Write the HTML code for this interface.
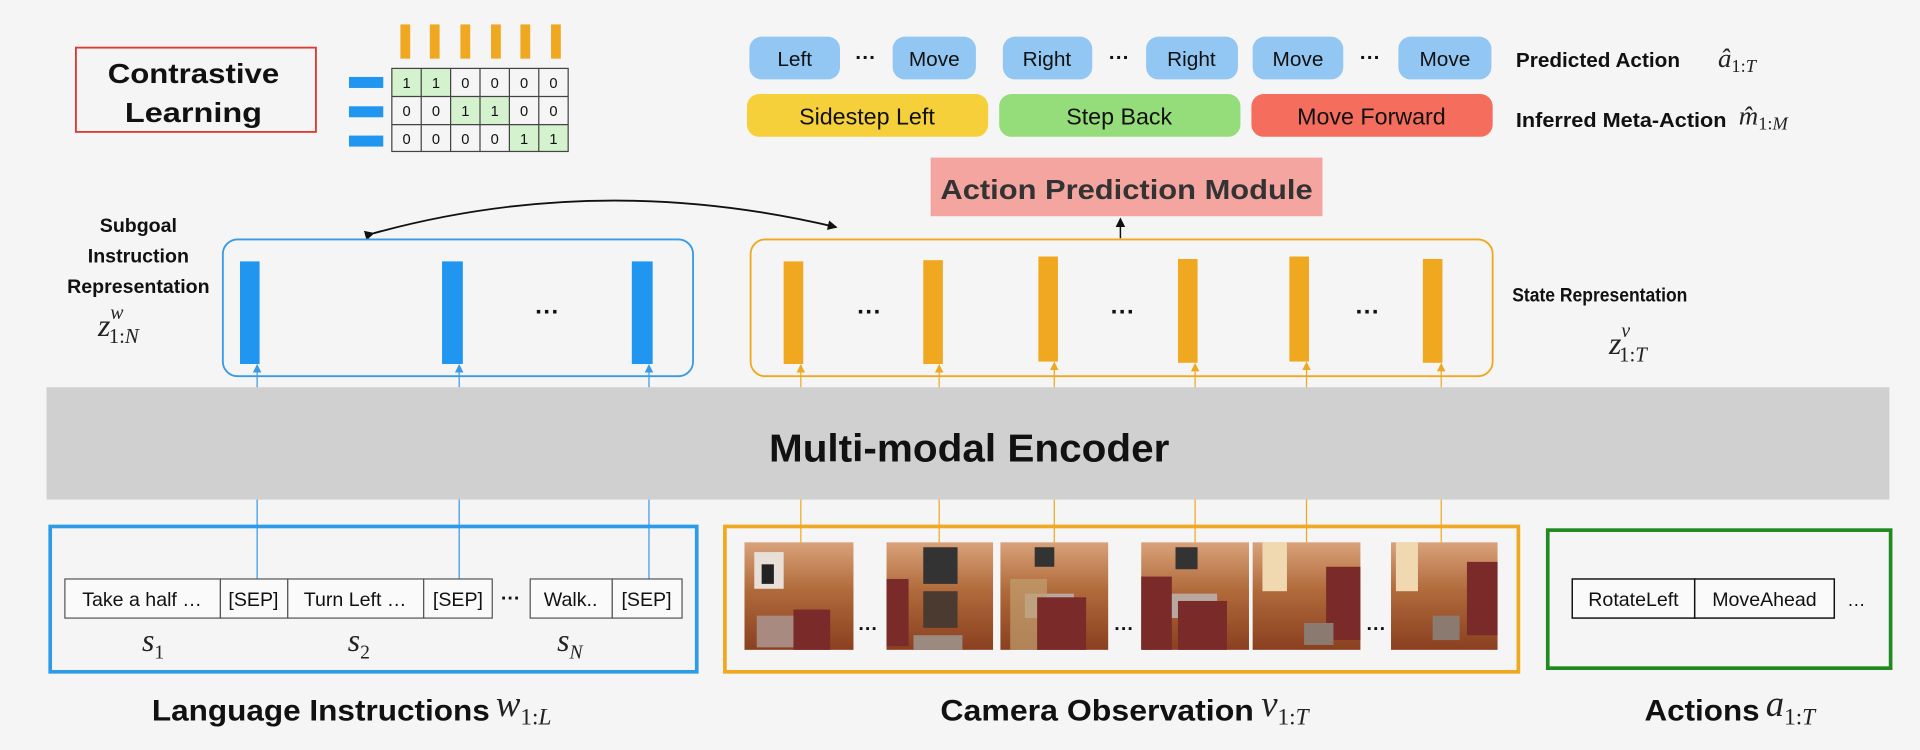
<!DOCTYPE html>
<html><head><meta charset="utf-8"><style>
html,body{margin:0;padding:0;background:#f4f5f4;}
svg{display:block}
text{font-family:"Liberation Sans",sans-serif;}
.b{font-weight:bold;fill:#111}
.m{font-family:"Liberation Serif",serif;font-style:italic;fill:#222}
</style></head><body>
<svg width="1920" height="750" viewBox="0 0 1568 614" preserveAspectRatio="none" xmlns="http://www.w3.org/2000/svg">
<defs>
<marker id="ah" markerWidth="8" markerHeight="8" refX="7" refY="4" orient="auto" markerUnits="userSpaceOnUse"><path d="M0,0 L8,4 L0,8 Z" fill="#111"/></marker>
<marker id="ab" markerWidth="7" markerHeight="7" refX="6" refY="3.5" orient="auto" markerUnits="userSpaceOnUse"><path d="M0,0 L7,3.5 L0,7 Z" fill="#3a9ae8"/></marker>
<marker id="ao" markerWidth="7" markerHeight="7" refX="6" refY="3.5" orient="auto" markerUnits="userSpaceOnUse"><path d="M0,0 L7,3.5 L0,7 Z" fill="#f0a820"/></marker>
<linearGradient id="room" x1="0" y1="0" x2="0" y2="1">
<stop offset="0" stop-color="#d9a27a"/><stop offset="0.45" stop-color="#b06a3a"/><stop offset="1" stop-color="#8a4020"/></linearGradient>
</defs>
<rect width="1568" height="614" fill="#f4f5f4"/>

<!-- Contrastive learning -->
<rect x="62" y="39" width="196" height="69" fill="none" stroke="#e03a30" stroke-width="1.5"/>
<text class="b" x="88" y="68" font-size="23" textLength="140" lengthAdjust="spacingAndGlyphs">Contrastive</text>
<text class="b" x="102" y="100" font-size="23" textLength="112" lengthAdjust="spacingAndGlyphs">Learning</text>
<g fill="#f0a820">
<rect x="327" y="20" width="8" height="28"/><rect x="351" y="20" width="8" height="28"/><rect x="376" y="20" width="8" height="28"/><rect x="401" y="20" width="8" height="28"/><rect x="425" y="20" width="8" height="28"/><rect x="450" y="20" width="8" height="28"/>
</g>
<g fill="#2196f0">
<rect x="285" y="63" width="28" height="9"/><rect x="285" y="87" width="28" height="9"/><rect x="285" y="111" width="28" height="9"/>
</g>
<g fill="#d5f2cf">
<rect x="320" y="56" width="48" height="23"/><rect x="368" y="79" width="48" height="23"/><rect x="416" y="102" width="48" height="22"/>
</g>
<g stroke="#444" stroke-width="1" fill="none">
<rect x="320" y="56" width="144" height="68"/>
<line x1="320" y1="79" x2="464" y2="79"/><line x1="320" y1="102" x2="464" y2="102"/>
<line x1="344" y1="56" x2="344" y2="124"/><line x1="368" y1="56" x2="368" y2="124"/><line x1="392" y1="56" x2="392" y2="124"/><line x1="416" y1="56" x2="416" y2="124"/><line x1="440" y1="56" x2="440" y2="124"/>
</g>
<g font-size="12" text-anchor="middle" fill="#111" font-family="Liberation Mono,monospace">
<text x="332" y="72">1</text><text x="356" y="72">1</text><text x="380" y="72">0</text><text x="404" y="72">0</text><text x="428" y="72">0</text><text x="452" y="72">0</text>
<text x="332" y="95">0</text><text x="356" y="95">0</text><text x="380" y="95">1</text><text x="404" y="95">1</text><text x="428" y="95">0</text><text x="452" y="95">0</text>
<text x="332" y="118">0</text><text x="356" y="118">0</text><text x="380" y="118">0</text><text x="404" y="118">0</text><text x="428" y="118">1</text><text x="452" y="118">1</text>
</g>

<!-- Predicted actions -->
<g fill="#92c7f3">
<rect x="612" y="30" width="74" height="35" rx="10"/><rect x="729" y="30" width="68" height="35" rx="10"/>
<rect x="819" y="30" width="73" height="35" rx="10"/><rect x="936" y="30" width="75" height="35" rx="10"/>
<rect x="1023" y="30" width="74" height="35" rx="10"/><rect x="1142" y="30" width="76" height="35" rx="10"/>
</g>
<g font-size="17" text-anchor="middle" fill="#111">
<text x="649" y="54">Left</text><text x="763" y="54">Move</text><text x="855" y="54">Right</text><text x="973" y="54">Right</text><text x="1060" y="54">Move</text><text x="1180" y="54">Move</text>
</g>
<g font-size="17" text-anchor="middle"><text class="b" x="707" y="53">···</text><text class="b" x="914" y="53">···</text><text class="b" x="1119" y="53">···</text></g>
<rect x="610" y="77" width="197" height="35" rx="10" fill="#f5d03b"/>
<rect x="816" y="77" width="197" height="35" rx="10" fill="#95dd7a"/>
<rect x="1022" y="77" width="197" height="35" rx="10" fill="#f56e5d"/>
<g font-size="19" text-anchor="middle" fill="#111">
<text x="708" y="102">Sidestep Left</text><text x="914" y="102">Step Back</text><text x="1120" y="102">Move Forward</text>
</g>
<text class="b" x="1238" y="55" font-size="17" textLength="134" lengthAdjust="spacingAndGlyphs">Predicted Action</text>
<text class="m" x="1403" y="55" font-size="22">â<tspan font-size="15" dy="4" font-style="normal">1:<tspan font-style="italic">T</tspan></tspan></text>
<text class="b" x="1238" y="104" font-size="17" textLength="172" lengthAdjust="spacingAndGlyphs">Inferred Meta-Action</text>
<text class="m" x="1420" y="102" font-size="22">m̂<tspan font-size="15" dy="4" font-style="normal">1:<tspan font-style="italic">M</tspan></tspan></text>

<!-- Action prediction module -->
<rect x="760" y="129" width="320" height="48" fill="#f4a59f"/>
<text x="768" y="163" font-size="23" font-weight="bold" fill="#333" textLength="304" lengthAdjust="spacingAndGlyphs">Action Prediction Module</text>
<line x1="915" y1="195" x2="915" y2="179" stroke="#111" stroke-width="1.2" marker-end="url(#ah)"/>
<path d="M305,191 Q490,140 683,186" fill="none" stroke="#111" stroke-width="1.5" marker-start="url(#ah)" marker-end="url(#ah)"/>

<!-- Subgoal -->
<g font-size="16" text-anchor="middle">
<text class="b" x="113" y="190">Subgoal</text><text class="b" x="113" y="215">Instruction</text><text class="b" x="113" y="240">Representation</text>
</g>
<text class="m" x="80" y="275" font-size="26">z<tspan font-size="16" dy="-14">w</tspan><tspan font-size="17" dx="-12" dy="20" font-style="normal">1:<tspan font-style="italic">N</tspan></tspan></text>

<rect x="182" y="196" width="384" height="112" rx="12" fill="none" stroke="#3a9ae8" stroke-width="1.5"/>
<g fill="#2196f0"><rect x="196" y="214" width="16" height="84"/><rect x="361" y="214" width="17" height="84"/><rect x="516" y="214" width="17" height="84"/></g>
<text class="b" x="447" y="262" font-size="20" text-anchor="middle">···</text>

<rect x="613" y="196" width="606" height="112" rx="12" fill="none" stroke="#f0a820" stroke-width="1.5"/>
<g fill="#f0a820">
<rect x="640" y="214" width="16" height="84"/><rect x="754" y="213" width="16" height="85"/><rect x="848" y="210" width="16" height="86"/>
<rect x="962" y="212" width="16" height="85"/><rect x="1053" y="210" width="16" height="86"/><rect x="1162" y="212" width="16" height="85"/>
</g>
<g font-size="20" text-anchor="middle"><text class="b" x="710" y="262">···</text><text class="b" x="917" y="262">···</text><text class="b" x="1117" y="262">···</text></g>
<text class="b" x="1235" y="247" font-size="16" textLength="143" lengthAdjust="spacingAndGlyphs">State Representation</text>
<text class="m" x="1314" y="290" font-size="26">z<tspan font-size="16" dy="-14">v</tspan><tspan font-size="17" dx="-9" dy="20" font-style="normal">1:<tspan font-style="italic">T</tspan></tspan></text>

<!-- connector lines -->
<g stroke="#3a9ae8" stroke-width="1" marker-end="url(#ab)">
<line x1="210" y1="474" x2="210" y2="299"/><line x1="375" y1="474" x2="375" y2="299"/><line x1="530" y1="474" x2="530" y2="299"/>
</g>
<g stroke="#f0a820" stroke-width="1" marker-end="url(#ao)">
<line x1="654" y1="444" x2="654" y2="299"/><line x1="767" y1="444" x2="767" y2="299"/><line x1="861" y1="444" x2="861" y2="297"/>
<line x1="976" y1="444" x2="976" y2="298"/><line x1="1067" y1="444" x2="1067" y2="297"/><line x1="1177" y1="444" x2="1177" y2="298"/>
</g>

<!-- Encoder -->
<rect x="38" y="317" width="1505" height="92" fill="#d0d0d0"/>
<text class="b" x="628" y="378" font-size="32" textLength="327" lengthAdjust="spacingAndGlyphs">Multi-modal Encoder</text>

<!-- bottom boxes -->
<rect x="41" y="431" width="528" height="119" fill="none" stroke="#2e9be8" stroke-width="3"/>
<rect x="592" y="431" width="648" height="119" fill="none" stroke="#f0a820" stroke-width="3"/>
<rect x="1264" y="434" width="280" height="113" fill="none" stroke="#1f8a1f" stroke-width="3"/>

<g fill="#fafafa" stroke="#555" stroke-width="1">
<rect x="53" y="474" width="127" height="32"/><rect x="180" y="474" width="55" height="32"/><rect x="235" y="474" width="111" height="32"/><rect x="346" y="474" width="56" height="32"/>
<rect x="433" y="474" width="67" height="32"/><rect x="500" y="474" width="57" height="32"/>
</g>
<g font-size="16" fill="#111" text-anchor="middle">
<text x="116" y="496">Take a half …</text><text x="207" y="496">[SEP]</text><text x="290" y="496">Turn Left …</text><text x="374" y="496">[SEP]</text><text x="466" y="496">Walk..</text><text x="528" y="496">[SEP]</text>
</g>
<text class="b" x="417" y="495" font-size="16" text-anchor="middle">···</text>
<text class="m" x="116" y="533" font-size="26">s<tspan font-size="16" dy="6" font-style="normal">1</tspan></text>
<text class="m" x="284" y="533" font-size="26">s<tspan font-size="16" dy="6" font-style="normal">2</tspan></text>
<text class="m" x="455" y="533" font-size="26">s<tspan font-size="16" dy="6">N</tspan></text>

<!-- images -->
<g>
<g transform="translate(608,444)"><rect width="89" height="88" fill="url(#room)"/><rect x="8" y="8" width="24" height="30" fill="#e8e0d8"/><rect x="14" y="18" width="10" height="16" fill="#222"/><rect x="10" y="60" width="40" height="26" fill="#a88a80"/><rect x="40" y="55" width="30" height="33" fill="#7a2a28"/></g>
<g transform="translate(724,444)"><rect width="87" height="88" fill="url(#room)"/><rect x="30" y="4" width="28" height="30" fill="#333"/><rect x="30" y="40" width="28" height="30" fill="#4a3a30"/><rect x="0" y="30" width="18" height="55" fill="#7a2a28"/><rect x="22" y="76" width="40" height="12" fill="#9a8a80"/></g>
<g transform="translate(817,444)"><rect width="88" height="88" fill="url(#room)"/><rect x="28" y="4" width="16" height="16" fill="#333"/><rect x="20" y="42" width="40" height="20" fill="#b8a8a0"/><rect x="8" y="30" width="30" height="58" fill="#c0a070" opacity=".7"/><rect x="30" y="45" width="40" height="43" fill="#7a2a28"/></g>
<g transform="translate(932,444)"><rect width="88" height="88" fill="url(#room)"/><rect x="28" y="4" width="18" height="18" fill="#333"/><rect x="22" y="42" width="40" height="20" fill="#b8a8a0"/><rect x="0" y="28" width="25" height="60" fill="#7a2a28"/><rect x="30" y="48" width="40" height="40" fill="#7a2a28"/></g>
<g transform="translate(1023,444)"><rect width="88" height="88" fill="url(#room)"/><rect x="8" y="0" width="20" height="40" fill="#f0d8b0"/><rect x="60" y="20" width="28" height="60" fill="#7a2a28"/><rect x="42" y="66" width="24" height="18" fill="#8a7a70"/></g>
<g transform="translate(1136,444)"><rect width="87" height="88" fill="url(#room)"/><rect x="4" y="0" width="18" height="40" fill="#f0d8b0"/><rect x="62" y="16" width="25" height="60" fill="#7a2a28"/><rect x="34" y="60" width="22" height="20" fill="#8a7a70"/></g>
</g>
<g font-size="16"><text class="b" x="709" y="520" text-anchor="middle">···</text><text class="b" x="918" y="520" text-anchor="middle">···</text><text class="b" x="1124" y="520" text-anchor="middle">···</text></g>

<!-- actions tokens -->
<g fill="#fafafa" stroke="#111" stroke-width="1.2"><rect x="1284" y="474" width="100" height="32"/><rect x="1384" y="474" width="114" height="32"/></g>
<g font-size="16" fill="#111" text-anchor="middle"><text x="1334" y="496">RotateLeft</text><text x="1441" y="496">MoveAhead</text></g>
<text x="1516" y="496" font-size="15" fill="#111" text-anchor="middle">…</text>

<!-- bottom labels -->
<text class="b" x="124" y="590" font-size="24" textLength="276" lengthAdjust="spacingAndGlyphs">Language Instructions</text>
<text class="m" x="405" y="586" font-size="30">w<tspan font-size="19" dy="7" font-style="normal">1:<tspan font-style="italic">L</tspan></tspan></text>
<text class="b" x="768" y="590" font-size="24" textLength="256" lengthAdjust="spacingAndGlyphs">Camera Observation</text>
<text class="m" x="1030" y="586" font-size="30">v<tspan font-size="19" dy="7" font-style="normal">1:<tspan font-style="italic">T</tspan></tspan></text>
<text class="b" x="1343" y="590" font-size="24" textLength="94" lengthAdjust="spacingAndGlyphs">Actions</text>
<text class="m" x="1442" y="586" font-size="30">a<tspan font-size="19" dy="7" font-style="normal">1:<tspan font-style="italic">T</tspan></tspan></text>
</svg>
</body></html>
